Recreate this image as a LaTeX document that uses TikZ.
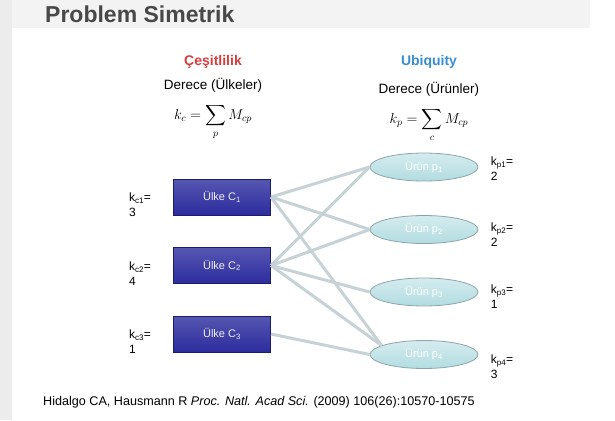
\documentclass[tikz,border=0pt]{standalone}
\usepackage{amsmath}
\usepackage{fontspec}
\setmainfont{Liberation Sans}
\usetikzlibrary{shapes.geometric,positioning}

\definecolor{ulkeblue}{RGB}{44,44,158}
\definecolor{ulkeedge}{RGB}{28,28,105}
\definecolor{uruncyan}{RGB}{178,220,225}
\definecolor{urunedge}{RGB}{140,165,170}
\definecolor{linkgray}{RGB}{198,210,214}
\definecolor{cesred}{RGB}{214,62,62}
\definecolor{ubiblue}{RGB}{58,142,208}
\definecolor{titlegray}{RGB}{72,72,72}
\definecolor{bargray}{RGB}{243,243,243}
\definecolor{stripgray}{RGB}{236,236,236}

\tikzset{
  ulke/.style={draw=ulkeedge, line width=1pt, top color=ulkeblue!80!white, bottom color=ulkeblue,
    minimum width=97pt, minimum height=36pt, text=white!88!gray, font=\fontsize{11}{13}\selectfont},
  urun/.style={ellipse, draw=urunedge, line width=0.8pt, top color=uruncyan!55!white, bottom color=uruncyan,
    minimum width=108pt, minimum height=28pt, inner sep=0pt, text=white, font=\fontsize{11}{13}\selectfont},
  klabel/.style={align=left, inner sep=0pt, font=\fontsize{12}{15}\selectfont},
  baslik/.style={inner sep=0pt, font=\fontsize{14}{16}\selectfont\bfseries},
  derece/.style={inner sep=0pt, font=\fontsize{13.5}{16}\selectfont},
  formul/.style={inner sep=0pt, font=\fontsize{14.4}{17}\selectfont},
  link/.style={linkgray, line width=3pt}
}

\begin{document}
\begin{tikzpicture}[x=1pt, y=-1pt]
  \useasboundingbox (0,0) rectangle (615,420);
  \fill[white] (0,0) rectangle (615,420);
  \fill[stripgray] (0,0) rectangle (12,420);
  \fill[bargray] (12,0) rectangle (590,28);
  \node[anchor=west, inner sep=0pt, text=titlegray, font=\fontsize{23}{27}\selectfont\bfseries] (title) at (45,14) {Problem Simetrik};

  % headings
  \node[baslik, text=cesred] (ces) at (213,62) {Çeşitlilik};
  \node[derece, below of=ces, node distance=23pt] (dereceU) {Derece (Ülkeler)};
  \node[formul, below=12pt of dereceU] (kc) {$\displaystyle k_c = \sum_p M_{cp}$};
  \node[baslik, text=ubiblue] (ubi) at (429,62) {Ubiquity};
  \node[derece, below of=ubi, node distance=27pt] (dereceP) {Derece (Ürünler)};
  \node[formul, below=12pt of dereceP] (kp) {$\displaystyle k_p = \sum_c M_{cp}$};

  % countries
  \node[ulke] (c1) at (222,197) {Ülke C\textsubscript{1}};
  \node[ulke, below of=c1, node distance=68.5pt] (c2) {Ülke C\textsubscript{2}};
  \node[ulke, below of=c2, node distance=68.5pt] (c3) {Ülke C\textsubscript{3}};

  % products
  \node[urun] (p1) at (424,167) {Ürün p\textsubscript{1}};
  \node[urun, below of=p1, node distance=62.5pt] (p2) {Ürün p\textsubscript{2}};
  \node[urun, below of=p2, node distance=62.5pt] (p3) {Ürün p\textsubscript{3}};
  \node[urun, below of=p3, node distance=62.5pt] (p4) {Ürün p\textsubscript{4}};

  % degrees
  \node[klabel, left of=c1, node distance=82pt, yshift=-8pt] (kc1) {k\textsubscript{c1}=\\3};
  \node[klabel, left of=c2, node distance=82pt, yshift=-8pt] (kc2) {k\textsubscript{c2}=\\4};
  \node[klabel, left of=c3, node distance=82pt, yshift=-8pt] (kc3) {k\textsubscript{c3}=\\1};
  \node[klabel, right of=p1, node distance=78pt, yshift=-2pt] (kp1) {k\textsubscript{p1}=\\2};
  \node[klabel, right of=p2, node distance=78pt, yshift=-5pt] (kp2) {k\textsubscript{p2}=\\2};
  \node[klabel, right of=p3, node distance=78pt, yshift=-5pt] (kp3) {k\textsubscript{p3}=\\1};
  \node[klabel, right of=p4, node distance=78pt, yshift=-12pt] (kp4) {k\textsubscript{p4}=\\3};

  % links
  \draw[link] (c1.east) -- (p1.west);
  \draw[link] (c1.east) -- (p2.west);
  \draw[link] (c1.east) -- (p4.168);
  \draw[link] (c2.east) -- (p1.west);
  \draw[link] (c2.east) -- (p2.west);
  \draw[link] (c2.east) -- (p3.west);
  \draw[link] (c2.east) -- (p4.168);
  \draw[link] (c3.east) -- (p4.west);

  \node[anchor=west, inner sep=0pt, font=\fontsize{12.6}{15}\selectfont] (kaynak) at (43,402)
    {Hidalgo CA, Hausmann R \textit{Proc. Natl. Acad Sci.} (2009) 106(26):10570-10575};
\end{tikzpicture}
\end{document}
